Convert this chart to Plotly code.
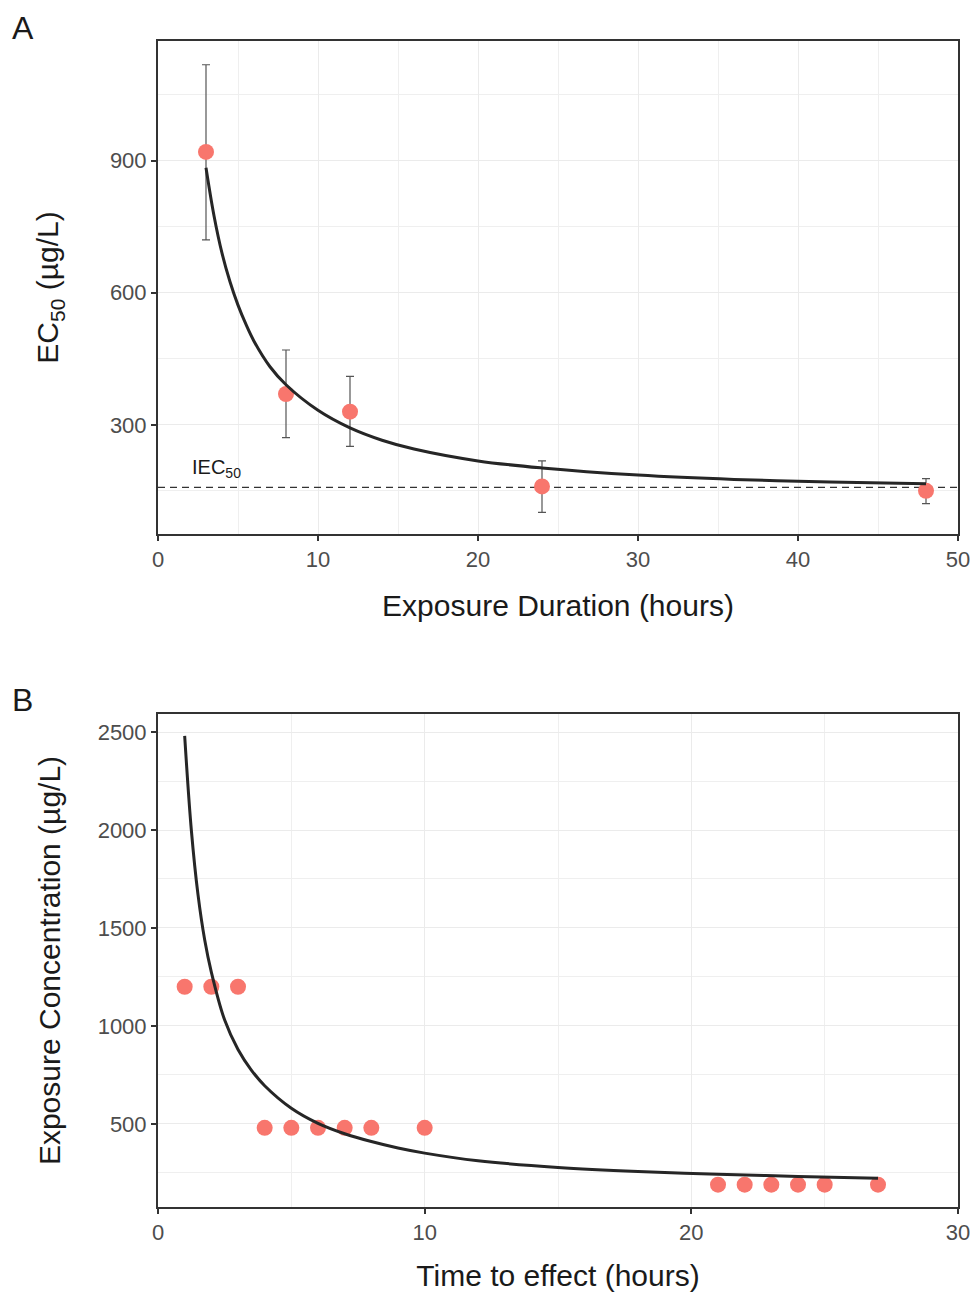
import plotly.graph_objects as go

# ---------------- Panel A data ----------------
dur_hours = [3, 8, 12, 24, 48]
ec50 = [920, 370, 330, 160, 150]
ec50_upper = [1118, 470, 410, 218, 178]
ec50_lower = [720, 271, 251, 101, 121]
iec50 = 158

fitA_x = [3, 3.5, 4, 4.5, 5, 5.5, 6, 7, 8, 10, 12, 14, 16, 20, 24, 30, 36, 42, 48]
fitA_y = [884, 775, 690, 625, 572, 528, 490, 432, 391, 333, 293, 265, 245, 218, 202, 186, 176, 170, 166]

# ---------------- Panel B data ----------------
tte_hours = [1, 2, 3, 4, 5, 6, 7, 8, 10, 21, 22, 23, 24, 25, 27]
exp_conc = [1200, 1200, 1200, 480, 480, 480, 480, 480, 480, 190, 190, 190, 190, 190, 190]

fitB_x = [1.0, 1.25, 1.5, 1.75, 2.0, 2.5, 3.0, 3.5, 4.0, 5.0, 6.0, 7.0, 8.0, 9.0, 10.0, 12.0, 15.0, 18.0, 21.0, 24.0, 27.0]
fitB_y = [2480, 2000, 1670, 1440, 1275, 1030, 880, 775, 695, 580, 503, 450, 410, 377, 351, 312, 278, 257, 243, 232, 223]

W, H = 973, 1292
PT = "#F8766D"
LINE = "#262626"
FONT = "Liberation Sans, Arial, sans-serif"

fig = go.Figure()

# Panel A
fig.add_trace(go.Scatter(
    x=[0, 50], y=[iec50, iec50], mode="lines",
    line=dict(color="#333333", width=1.2, dash="7px,5px"),
    xaxis="x", yaxis="y", showlegend=False, hoverinfo="skip"))
fig.add_trace(go.Scatter(
    x=dur_hours, y=ec50, mode="markers",
    marker=dict(color=PT, size=16),
    error_y=dict(type="data", symmetric=False,
                 array=[u - v for u, v in zip(ec50_upper, ec50)],
                 arrayminus=[v - l for v, l in zip(ec50, ec50_lower)],
                 color="#555555", thickness=1.2, width=4),
    xaxis="x", yaxis="y", showlegend=False))
fig.add_trace(go.Scatter(
    x=fitA_x, y=fitA_y, mode="lines", line=dict(color=LINE, width=3, shape="spline", smoothing=1),
    xaxis="x", yaxis="y", showlegend=False))

# Panel B
fig.add_trace(go.Scatter(
    x=tte_hours, y=exp_conc, mode="markers",
    marker=dict(color=PT, size=16),
    xaxis="x2", yaxis="y2", showlegend=False))
fig.add_trace(go.Scatter(
    x=fitB_x, y=fitB_y, mode="lines", line=dict(color=LINE, width=3, shape="spline", smoothing=1),
    xaxis="x2", yaxis="y2", showlegend=False))

xd = [158 / W, 958 / W]
yA = [1 - 534 / H, 1 - 41 / H]
yB = [1 - 1207 / H, 1 - 714 / H]

tickfont = dict(family=FONT, size=22, color="#4D4D4D")
titlefont = dict(family=FONT, size=30, color="#1A1A1A")
minor_grid = dict(showgrid=True, gridcolor="#EFEFEF", gridwidth=1)

def axis_common(**kw):
    d = dict(showline=True, mirror=True, linecolor="#333333", linewidth=2,
             ticks="outside", ticklen=5, tickcolor="#333333", tickwidth=1.5,
             showgrid=True, gridcolor="#EBEBEB", gridwidth=1.4,
             zeroline=False, tickfont=tickfont, automargin=False)
    d.update(kw)
    return d

fig.update_layout(
    width=W, height=H,
    margin=dict(l=0, r=0, t=0, b=0),
    paper_bgcolor="white", plot_bgcolor="white",
    font=dict(family=FONT),
    xaxis=axis_common(domain=xd, anchor="y", range=[0, 50], dtick=10, tick0=0,
                      minor=dict(dtick=5, **minor_grid),
                      title=dict(text="Exposure Duration (hours)", font=titlefont, standoff=24)),
    yaxis=axis_common(domain=yA, anchor="x", range=[52, 1172], dtick=300, tick0=0,
                      minor=dict(dtick=150, **minor_grid),
                      title=dict(text="EC<sub>50</sub> (µg/L)", font=titlefont, standoff=42)),
    xaxis2=axis_common(domain=xd, anchor="y2", range=[0, 30], dtick=10, tick0=0,
                       minor=dict(dtick=5, **minor_grid),
                       title=dict(text="Time to effect (hours)", font=titlefont, standoff=23)),
    yaxis2=axis_common(domain=yB, anchor="x2", range=[76, 2592], dtick=500, tick0=0,
                       minor=dict(dtick=250, **minor_grid),
                       title=dict(text="Exposure Concentration (µg/L)", font=titlefont, standoff=28)),
    annotations=[
        dict(text="A", x=10 / W, y=1 - 8 / H, xref="paper", yref="paper",
             xanchor="left", yanchor="top", showarrow=False,
             font=dict(family=FONT, size=32, color="#1A1A1A")),
        dict(text="B", x=10 / W, y=1 - 680 / H, xref="paper", yref="paper",
             xanchor="left", yanchor="top", showarrow=False,
             font=dict(family=FONT, size=32, color="#1A1A1A")),
        dict(text="IEC<sub>50</sub>", x=2, y=iec50 + 10, xref="x", yref="y",
             xanchor="left", yanchor="bottom", showarrow=False,
             font=dict(family=FONT, size=20, color="#1A1A1A")),
    ],
)

fig.write_html("out.html", config={"displayModeBar": False},
               post_script="document.body.style.margin='0';document.body.style.overflow='hidden';")
